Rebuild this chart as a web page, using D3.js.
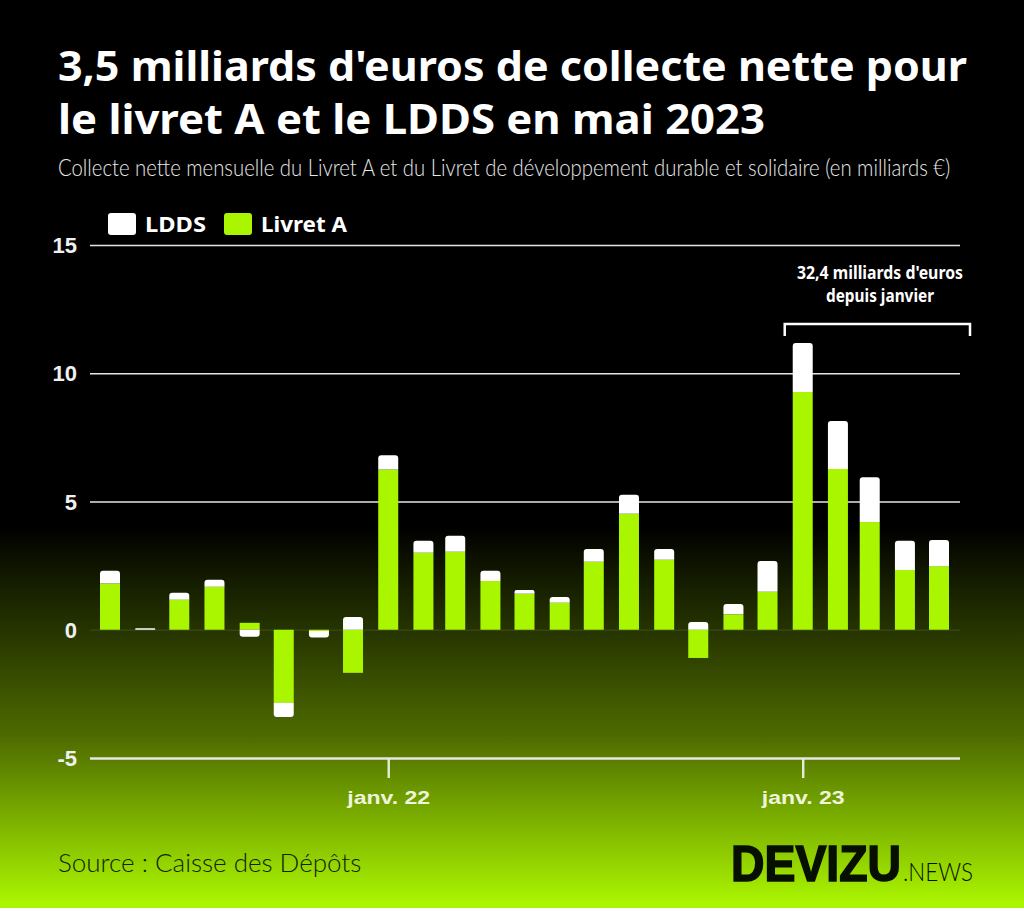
<!DOCTYPE html>
<html>
<head>
<meta charset="utf-8">
<script src="https://cdn.jsdelivr.net/npm/d3@7"></script>
<style>
  html, body { margin: 0; padding: 0; background: #fff; }
  svg { display: block; }
</style>
</head>
<body>
<script>
// monthly data, mai 2021 -> mai 2023 (milliards d'euros)
const months = ["2021-05","2021-06","2021-07","2021-08","2021-09","2021-10","2021-11","2021-12",
  "2022-01","2022-02","2022-03","2022-04","2022-05","2022-06","2022-07","2022-08","2022-09","2022-10","2022-11","2022-12",
  "2023-01","2023-02","2023-03","2023-04","2023-05"];
const livretA = [1.8,0,1.17,1.68,0.27,-2.85,-0.05,-1.68,6.25,3.0,3.04,1.9,1.4,1.05,2.65,4.52,2.73,-1.1,0.6,1.48,9.27,6.27,4.2,2.33,2.48];
const ldds = [0.5,0.06,0.27,0.27,-0.27,-0.55,-0.25,0.5,0.55,0.47,0.62,0.4,0.15,0.23,0.5,0.74,0.42,0.3,0.4,1.2,1.91,1.87,1.75,1.14,1.02];
const yTicks = [-5,0,5,10,15];
const xTicks = ["2022-01","2023-01"];
const xTickLabels = ["janv. 22","janv. 23"];
const seriesNames = ["Livret A","LDDS"];
const titleLines = ["3,5 milliards d'euros de collecte nette pour","le livret A et le LDDS en mai 2023"];
const titleWidths = [909, 707];
const subtitle = "Collecte nette mensuelle du Livret A et du Livret de développement durable et solidaire (en milliards €)";

const width = 1024, height = 911;
const green = "#aaf500";
const barWidth = 20;
const parseMonth = d3.utcParse("%Y-%m");

const svg = d3.select("body").append("svg")
  .attr("width", width)
  .attr("height", height);

// squeeze a text to a given width by scaling x only
function fitText(sel, x0, y0, w) {
  const len = sel.node().getComputedTextLength();
  sel.attr("transform", `translate(${x0},${y0}) scale(${w / len},1)`);
}

// background gradient
const grad = svg.append("defs").append("linearGradient")
  .attr("id", "bg")
  .attr("x1", 0).attr("x2", 0).attr("y1", 0).attr("y2", 1);
grad.append("stop").attr("offset", "0.58").attr("stop-color", "#000");
grad.append("stop").attr("offset", "0.81").attr("stop-color", "#4d6a00");
grad.append("stop").attr("offset", "0.995").attr("stop-color", green);

svg.append("rect")
  .attr("width", width)
  .attr("height", 908)
  .attr("fill", "url(#bg)");

// scales (time scale: spacing follows month lengths)
const x = d3.scaleUtc()
  .domain([parseMonth(months[0]), parseMonth(months[months.length - 1])])
  .range([110, 939]);
const y = d3.scaleLinear()
  .domain([-5, 15])
  .range([758, 245]);

// gridlines + labels
const yAxis = svg.append("g")
  .attr("transform", "translate(960,0)")
  .call(d3.axisLeft(y).tickValues(yTicks).tickSize(870).tickFormat(d => d));
yAxis.select(".domain").remove();
yAxis.selectAll("line")
  .attr("stroke", d => d === 0 ? "#fff" : "#e6e6e6")
  .attr("stroke-opacity", d => d === 0 ? 0.08 : 1)
  .attr("stroke-width", d => d === -5 ? 2.4 : 1.6);
yAxis.selectAll("text")
  .attr("x", -883)
  .attr("dy", "0.35em")
  .attr("fill", "#f0f0f0")
  .style("font", "bold 22px 'Liberation Sans'");

// bottom axis
const xAxis = svg.append("g")
  .attr("transform", `translate(0,${y(-5)})`)
  .call(d3.axisBottom(x)
    .tickValues(xTicks.map(parseMonth))
    .tickFormat((d, i) => xTickLabels[i])
    .tickSize(20)
    .tickPadding(13));
xAxis.select(".domain").remove();
xAxis.selectAll("line").attr("stroke", "#e6eed2").attr("stroke-width", 2.4);
xAxis.selectAll("text")
  .attr("fill", "#eef5dc")
  .attr("textLength", 83)
  .attr("lengthAdjust", "spacingAndGlyphs")
  .style("font", "bold 18px 'Liberation Sans'");

// stacks
const rows = months.map((m, i) => ({ month: parseMonth(m), "Livret A": livretA[i], "LDDS": ldds[i] }));
const stack = d3.stack()
  .keys(seriesNames)
  .offset(d3.stackOffsetDiverging)(rows);

// white caps are rounded on the outer end only
function capPath(d) {
  const x0 = x(d.data.month) - barWidth / 2, w = barWidth;
  const top = y(Math.max(d[0], d[1])), bottom = y(Math.min(d[0], d[1]));
  const r = Math.min(3, (bottom - top) / 2);
  if (d[1] < 0 || d[0] < 0) {
    return `M${x0},${top}H${x0 + w}V${bottom - r}Q${x0 + w},${bottom} ${x0 + w - r},${bottom}H${x0 + r}Q${x0},${bottom} ${x0},${bottom - r}Z`;
  }
  return `M${x0},${bottom}H${x0 + w}V${top + r}Q${x0 + w},${top} ${x0 + w - r},${top}H${x0 + r}Q${x0},${top} ${x0},${top + r}Z`;
}

svg.append("g").selectAll("rect")
  .data(stack[0])
  .join("rect")
  .attr("x", d => x(d.data.month) - barWidth / 2)
  .attr("width", barWidth)
  .attr("y", d => y(Math.max(d[0], d[1])))
  .attr("height", d => Math.abs(y(d[0]) - y(d[1])))
  .attr("fill", green);

svg.append("g").selectAll("path")
  .data(stack[1])
  .join("path")
  .attr("d", capPath)
  .attr("fill", "#fff");

// title block
svg.append("g").selectAll("text")
  .data(titleLines)
  .join("text")
  .attr("x", 58)
  .attr("y", (d, i) => 81 + i * 53)
  .attr("fill", "#fff")
  .attr("textLength", (d, i) => titleWidths[i])
  .attr("lengthAdjust", "spacingAndGlyphs")
  .style("font", "700 41px 'Noto Sans'")
  .text(d => d);

// subtitle is a condensed face in the original
svg.append("text")
  .attr("fill", "#e8e8e8")
  .style("font", "300 23px Lato")
  .text(subtitle)
  .call(fitText, 58, 176, 893);

// legend
const legend = [
  { name: "LDDS", color: "#fff", x: 108, w: 61 },
  { name: "Livret A", color: green, x: 224, w: 86 }
];
const lg = svg.append("g").selectAll("g")
  .data(legend)
  .join("g")
  .attr("transform", d => `translate(${d.x},213)`);
lg.append("rect")
  .attr("width", 28).attr("height", 22).attr("rx", 3)
  .attr("fill", d => d.color);
lg.append("text")
  .attr("x", 37)
  .attr("y", 19)
  .attr("fill", "#fff")
  .attr("textLength", d => d.w)
  .attr("lengthAdjust", "spacingAndGlyphs")
  .style("font", "700 21px 'Noto Sans'")
  .text(d => d.name);

// bracket for 2023
const bx0 = x(parseMonth("2023-01")) - 18, bx1 = 970;
svg.append("path")
  .attr("d", `M${bx0},336V324H${bx1}V336`)
  .attr("fill", "none")
  .attr("stroke", "#fff")
  .attr("stroke-width", 2.5);
svg.append("g").selectAll("text")
  .data([["32,4 milliards d'euros", 166], ["depuis janvier", 108]])
  .join("text")
  .attr("x", 880)
  .attr("y", (d, i) => 279 + i * 23)
  .attr("text-anchor", "middle")
  .attr("fill", "#fff")
  .attr("textLength", d => d[1])
  .attr("lengthAdjust", "spacingAndGlyphs")
  .style("font", "700 17px 'Noto Sans'")
  .text(d => d[0]);

// source + logo
svg.append("text")
  .attr("x", 58)
  .attr("y", 872)
  .attr("fill", "#10230a")
  .style("font", "300 26px Lato")
  .text("Source : Caisse des Dépôts");

svg.append("text")
  .attr("fill", "#071000")
  .attr("stroke", "#071000")
  .attr("stroke-width", 1.6)
  .style("font", "bold 50px 'Liberation Sans'")
  .text("DEVIZU")
  .call(fitText, 731, 881, 170);
svg.append("text")
  .attr("fill", "#071000")
  .style("font", "300 25px Lato")
  .text(".NEWS")
  .call(fitText, 903, 881, 70);
</script>
</body>
</html>
